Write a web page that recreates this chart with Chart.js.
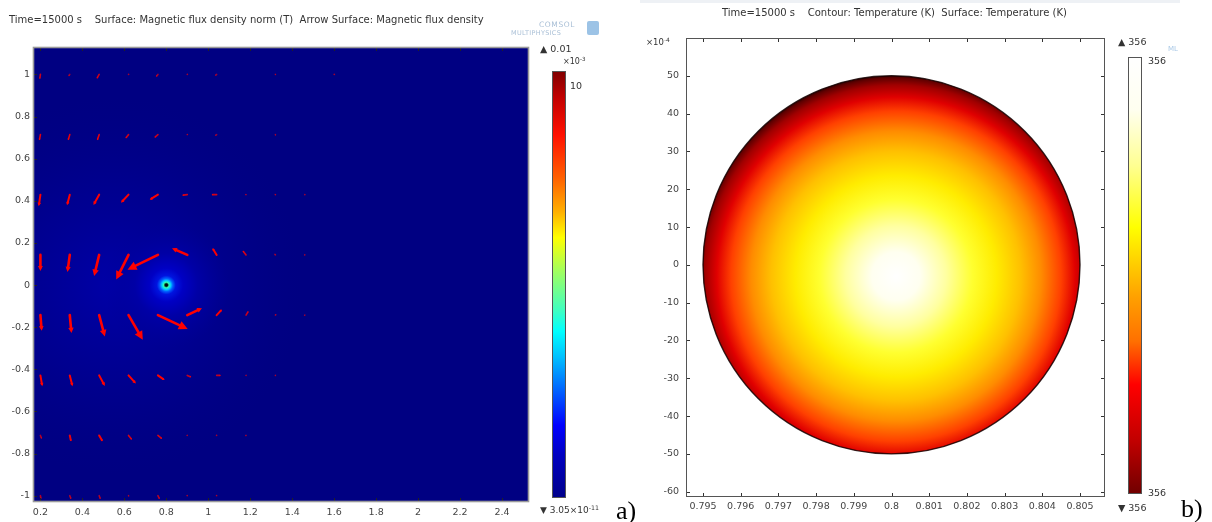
<!DOCTYPE html>
<html><head><meta charset="utf-8">
<script src="https://cdn.jsdelivr.net/npm/chart.js@4.4.0/dist/chart.umd.min.js"></script>
<style>
html,body{margin:0;padding:0;background:#fff;width:1212px;height:522px;overflow:hidden;font-family:'DejaVu Sans',sans-serif;}
canvas{position:absolute;top:0;}
#c1{left:0;}
#c2{left:612px;}
.t{position:absolute;white-space:nowrap;font-size:9.5px;color:#333;line-height:1;}
.h{position:absolute;white-space:nowrap;font-size:10px;color:#333;line-height:1;}
.s{position:absolute;white-space:nowrap;font-family:'Liberation Serif','Times New Roman',serif;font-size:26px;color:#000;line-height:1;}
sup{font-size:70%;vertical-align:0;position:relative;top:-0.45em;}
#topbar{position:absolute;left:640px;top:0;width:540px;height:3px;background:#eef1f5;}
</style></head><body>
<div id="topbar"></div>
<canvas id="c1" width="612" height="522"></canvas>
<canvas id="c2" width="600" height="522"></canvas>

<div class="h" style="left:9px;top:15px;">Time=15000 s&nbsp;&nbsp;&nbsp;&nbsp;Surface: Magnetic flux density norm (T)&nbsp;&nbsp;Arrow Surface: Magnetic flux density</div>
<div class="t" style="left:539px;top:21px;font-size:7.5px;color:#a9bfd6;letter-spacing:0.6px;">COMSOL</div>
<div class="t" style="left:511px;top:30px;font-size:6.5px;color:#a9bfd6;letter-spacing:0.3px;">MULTIPHYSICS</div>
<div style="position:absolute;left:587px;top:21px;width:12px;height:14px;background:#9cc3e6;border-radius:2px;"></div>
<div class="t" style="left:540px;top:44px;">▲ 0.01</div>
<div class="t" style="left:563px;top:58px;font-size:8px;">×10<sup>-3</sup></div>
<div class="t" style="left:570px;top:81px;">10</div>
<div class="t" style="left:540px;top:506px;font-size:9px;">▼ 3.05×10<sup>-11</sup></div>
<div class="s" style="left:616px;top:498px;">a)</div>

<div class="h" style="left:722px;top:8px;">Time=15000 s&nbsp;&nbsp;&nbsp;&nbsp;Contour: Temperature (K)&nbsp;&nbsp;Surface: Temperature (K)</div>
<div class="t" style="left:1168px;top:46px;font-size:7px;color:#a9c8e6;">ML</div>
<div class="t" style="left:646px;top:38px;font-size:8.5px;">×10<sup>-4</sup></div>
<div class="t" style="left:1118px;top:37px;">▲ 356</div>
<div class="t" style="left:1148px;top:56px;">356</div>
<div class="t" style="left:1148px;top:488px;">356</div>
<div class="t" style="left:1118px;top:503px;">▼ 356</div>
<div class="s" style="left:1181px;top:496px;">b)</div>

<script>
// ================= Panel a) data =================
const aXTicks = [0.2,0.4,0.6,0.8,1,1.2,1.4,1.6,1.8,2,2.2,2.4];
const aXLabels = ['0.2','0.4','0.6','0.8','1','1.2','1.4','1.6','1.8','2','2.2','2.4'];
const aYTicks = [-1,-0.8,-0.6,-0.4,-0.2,0,0.2,0.4,0.6,0.8,1];
const aYLabels = ['-1','-0.8','-0.6','-0.4','-0.2','0','0.2','0.4','0.6','0.8','1'];
const aXRange = [0.1647, 2.5285];
const aYRange = [-1.03, 1.13];

// arrow grid (tail positions) and field components (data units)
const arrowCols = [0.2,0.34,0.48,0.62,0.76,0.9,1.04,1.18,1.32,1.46,1.6];
const arrowRows = [1.0,0.714,0.429,0.143,-0.143,-0.429,-0.714,-1.0];
const arrowU = [
  [-0.003,-0.006,-0.011,-0.003,-0.009,-0.003,-0.008,0,0,-0.003,-0.004],
  [-0.005,-0.008,-0.009,-0.014,-0.016,-0.004,-0.008,-0.003,0,0,0],
  [-0.008,-0.013,-0.027,-0.036,-0.039,-0.024,-0.024,-0.005,-0.004,-0.003,-0.003],
  [0,-0.011,-0.024,-0.059,-0.145,-0.073,-0.020,-0.016,-0.005,-0.003,0],
  [0.006,0.008,0.027,0.068,0.142,0.070,0.025,0.011,0.004,0.003,0],
  [0.009,0.013,0.027,0.035,0.032,0.019,0.020,0.004,0.004,0.003,0],
  [0.006,0.006,0.016,0.016,0.020,0.004,0.003,0.004,0.003,0,0],
  [0.003,0.006,0.006,0.003,0.008,0.003,0.003,0,0,0.002,0.002]
];
const arrowV = [
  [-0.022,-0.009,-0.020,-0.003,-0.011,-0.003,-0.006,0,-0.005,0,0],
  [-0.027,-0.027,-0.027,-0.017,-0.014,-0.002,-0.005,0.001,-0.006,0,0],
  [-0.055,-0.050,-0.049,-0.038,-0.024,-0.003,0,0.003,0.004,0.003,0.002],
  [-0.076,-0.081,-0.100,-0.117,-0.070,0.032,0.032,0.020,0.006,0.004,0],
  [-0.074,-0.085,-0.101,-0.117,-0.066,0.033,0.027,0.019,0.006,0.003,0],
  [-0.052,-0.052,-0.050,-0.039,-0.022,-0.008,0,0.003,0.003,0.002,0],
  [-0.016,-0.028,-0.028,-0.020,-0.016,-0.002,-0.003,0.001,0.002,0,0],
  [-0.016,-0.016,-0.016,-0.005,-0.016,-0.003,-0.003,0,0,-0.001,-0.001]
];
// conductor position and surface glow (radius in data units -> colour)
const sourcePoint = [0.8, 0];
const glowRadius = [0, 0.006, 0.013, 0.021, 0.031, 0.045, 0.08, 0.15, 0.3];
const glowColor = ['#000000','#001010','#30ffb0','#00d0ff','#0060ff','#0014e0','#0000c4','#0000a6','rgba(0,0,150,0)'];
const haloCenter = [0.55, 0];
const haloRadius = 0.9;
// jet colour legend (0 = top, 1 = bottom)
const jetPos = [0,0.06,0.15,0.25,0.33,0.39,0.47,0.56,0.61,0.67,0.75,0.83,0.9,1];
const jetCol = ['#800000','#c00000','#ff1000','#ff6000','#ffb000','#ffff00','#a0ff60','#40ffc0','#00ffff','#00c0ff','#0060ff','#0000ff','#0000c0','#00008a'];

// ================= Panel b) data =================
const bXTicks = [0.795,0.796,0.797,0.798,0.799,0.8,0.801,0.802,0.803,0.804,0.805];
const bXLabels = ['0.795','0.796','0.797','0.798','0.799','0.8','0.801','0.802','0.803','0.804','0.805'];
const bYTicks = [-60,-50,-40,-30,-20,-10,0,10,20,30,40,50,60];
const bYLabels = ['-60','-50','-40','-30','-20','-10','0','10','20','30','40','50',''];
const bXRange = [0.794549, 0.805663];
const bYRange = [-61.4, 60];
const diskCenter = [0.8, 0];          // x (m), y (×10^-4 m)
const diskRadius = [0.005, 50];
const heatCenter = [0.80012, -3];
const heatPos = [0,0.12,0.25,0.38,0.5,0.62,0.72,0.82,0.89,0.95,0.985,1];
const heatCol = ['#ffffff','#fffff0','#ffffa0','#ffff30','#ffec00','#ffc000','#ff8c00','#ff4000','#e00000','#a00000','#600000','#300000'];
const heatBarPos = [0,0.12,0.25,0.39,0.55,0.65,0.75,0.88,1];
const heatBarCol = ['#ffffff','#fffff0','#ffff90','#ffff00','#ffa000','#ff7000','#ff0000','#c00000','#700000'];

// ================= helpers =================
const FONT = {family:"'DejaVu Sans', sans-serif", size:9.5};
function fixedTicks(values){ return s => { s.ticks = values.map(v => ({value:v})); }; }

const frameTicks = {
  id:'frameTicks',
  afterDraw(chart, args, o){
    const {ctx, chartArea:a, scales:{x,y}} = chart;
    ctx.save();
    ctx.strokeStyle = o.tick; ctx.lineWidth = 1;
    ctx.beginPath();
    x.ticks.forEach(t=>{ const p=Math.round(x.getPixelForValue(t.value))+0.5;
      ctx.moveTo(p,a.bottom); ctx.lineTo(p,a.bottom-o.len);
      ctx.moveTo(p,a.top); ctx.lineTo(p,a.top+o.len); });
    y.ticks.forEach(t=>{ const p=Math.round(y.getPixelForValue(t.value))+0.5;
      ctx.moveTo(a.left,p); ctx.lineTo(a.left+o.len,p);
      if(o.right){ ctx.moveTo(a.right,p); ctx.lineTo(a.right-o.len,p); } });
    ctx.stroke();
    ctx.strokeStyle = o.frame; ctx.lineWidth = o.fw;
    ctx.strokeRect(a.left+0.5, a.top+0.5, a.width-1, a.height-1);
    ctx.restore();
  }
};

function colorBar(ctx, x, y, w, h, pos, col){
  const g = ctx.createLinearGradient(0,y,0,y+h);
  pos.forEach((p,i)=>g.addColorStop(p,col[i]));
  ctx.fillStyle = g; ctx.fillRect(x,y,w,h);
  ctx.strokeStyle = '#555'; ctx.lineWidth = 1; ctx.strokeRect(x+0.5,y+0.5,w-1,h-1);
}

function drawArrow(ctx,x0,y0,x1,y1){
  const dx=x1-x0, dy=y1-y0, L=Math.hypot(dx,dy);
  if(L<0.8) return;
  const ux=dx/L, uy=dy/L;
  const hl=Math.min(Math.max(L*0.3,1.5),9), hw=hl*0.5;
  ctx.globalAlpha = Math.min(1, 0.4 + L/12);
  ctx.lineWidth = L>14 ? 2.6 : (L>6 ? 2 : 1.6);
  ctx.beginPath(); ctx.moveTo(x0,y0); ctx.lineTo(x1-ux*hl*0.7,y1-uy*hl*0.7); ctx.stroke();
  ctx.beginPath(); ctx.moveTo(x1,y1);
  ctx.lineTo(x1-ux*hl-uy*hw, y1-uy*hl+ux*hw);
  ctx.lineTo(x1-ux*hl+uy*hw, y1-uy*hl-ux*hw);
  ctx.closePath(); ctx.fill();
}

// ================= Chart a) =================
const surfaceA = {
  id:'surfaceA',
  beforeDatasetsDraw(chart){
    const {ctx, chartArea:a, scales:{x,y}} = chart;
    ctx.save();
    ctx.beginPath(); ctx.rect(a.left,a.top,a.width,a.height); ctx.clip();
    ctx.fillStyle = '#000082'; ctx.fillRect(a.left,a.top,a.width,a.height);
    const hx=x.getPixelForValue(haloCenter[0]), hy=y.getPixelForValue(haloCenter[1]);
    const hr=Math.abs(x.getPixelForValue(haloCenter[0]+haloRadius)-hx);
    let g=ctx.createRadialGradient(hx,hy,0,hx,hy,hr);
    g.addColorStop(0,'rgba(0,0,175,0.85)'); g.addColorStop(0.5,'rgba(0,0,160,0.45)'); g.addColorStop(1,'rgba(0,0,140,0)');
    ctx.fillStyle=g; ctx.fillRect(a.left,a.top,a.width,a.height);
    const cx=x.getPixelForValue(sourcePoint[0]), cy=y.getPixelForValue(sourcePoint[1]);
    const rmax=glowRadius[glowRadius.length-1];
    const R=Math.abs(x.getPixelForValue(sourcePoint[0]+rmax)-cx);
    g=ctx.createRadialGradient(cx,cy,0,cx,cy,R);
    glowRadius.forEach((r,i)=>g.addColorStop(r/rmax, glowColor[i]));
    ctx.fillStyle=g; ctx.beginPath(); ctx.arc(cx,cy,R,0,Math.PI*2); ctx.fill();
    ctx.restore();
    ctx.save(); colorBar(ctx, 552, 71, 14, 427, jetPos, jetCol); ctx.restore();
  },
  afterDatasetsDraw(chart){
    const {ctx, chartArea:a, scales:{x,y}} = chart;
    ctx.save();
    ctx.beginPath(); ctx.rect(a.left,a.top,a.width,a.height); ctx.clip();
    ctx.strokeStyle='#ff0000'; ctx.fillStyle='#ff0000'; ctx.lineCap='round';
    arrowRows.forEach((ry,i)=>arrowCols.forEach((rx,j)=>{
      const u=arrowU[i][j], v=arrowV[i][j];
      drawArrow(ctx, x.getPixelForValue(rx), y.getPixelForValue(ry), x.getPixelForValue(rx+u), y.getPixelForValue(ry+v));
    }));
    ctx.restore();
  }
};

const tailPoints = [];
arrowRows.forEach(ry=>arrowCols.forEach(rx=>tailPoints.push({x:rx,y:ry})));

new Chart(document.getElementById('c1'), {
  type:'scatter',
  data:{datasets:[{label:'arrows', data:tailPoints, pointRadius:0, pointHoverRadius:0}]},
  options:{
    responsive:false, animation:false, events:[],
    layout:{padding:{left:0, top:47, right:83, bottom:0}},
    plugins:{legend:{display:false}, tooltip:{enabled:false},
      frameTicks:{tick:'#222', len:4, frame:'#9a9a9a', fw:1.6, right:false}},
    scales:{
      x:{type:'linear', min:aXRange[0], max:aXRange[1], afterBuildTicks:fixedTicks(aXTicks),
         afterFit:s=>{s.height=20;},
         grid:{display:false, drawTicks:false}, border:{display:false},
         ticks:{autoSkip:false, maxRotation:0, padding:5, color:'#444', font:FONT, callback:(v,i)=>aXLabels[i]}},
      y:{type:'linear', min:aYRange[0], max:aYRange[1], afterBuildTicks:fixedTicks(aYTicks),
         afterFit:s=>{s.width=33;},
         grid:{display:false, drawTicks:false}, border:{display:false},
         ticks:{autoSkip:false, padding:3, color:'#444', font:FONT, callback:(v,i)=>aYLabels[i]}}
    }
  },
  plugins:[surfaceA, frameTicks]
});

// ================= Chart b) =================
const surfaceB = {
  id:'surfaceB',
  beforeDatasetsDraw(chart){
    const {ctx, scales:{x,y}} = chart;
    const cx=x.getPixelForValue(diskCenter[0]), cy=y.getPixelForValue(diskCenter[1]);
    const rx=Math.abs(x.getPixelForValue(diskCenter[0]+diskRadius[0])-cx);
    const ry=Math.abs(y.getPixelForValue(diskCenter[1]+diskRadius[1])-cy);
    const hx=x.getPixelForValue(heatCenter[0]), hy=y.getPixelForValue(heatCenter[1]);
    ctx.save();
    const g=ctx.createRadialGradient(hx,hy,0,hx,hy,Math.max(rx,ry)+Math.hypot(hx-cx,hy-cy));
    heatPos.forEach((p,i)=>g.addColorStop(p,heatCol[i]));
    ctx.fillStyle=g;
    ctx.beginPath(); ctx.ellipse(cx,cy,rx,ry,0,0,Math.PI*2); ctx.fill();
    ctx.strokeStyle='rgba(20,0,0,0.85)'; ctx.lineWidth=1.4; ctx.stroke();
    ctx.restore();
    ctx.save(); colorBar(ctx, 1128-612, 57, 14, 437, heatBarPos, heatBarCol); ctx.restore();
  }
};

new Chart(document.getElementById('c2'), {
  type:'scatter',
  data:{datasets:[{label:'domain', data:[{x:diskCenter[0], y:diskCenter[1]}], pointRadius:0, pointHoverRadius:0}]},
  options:{
    responsive:false, animation:false, events:[],
    layout:{padding:{left:0, top:38, right:107, bottom:0}},
    plugins:{legend:{display:false}, tooltip:{enabled:false},
      frameTicks:{tick:'#333', len:4, frame:'#555', fw:1, right:true}},
    scales:{
      x:{type:'linear', min:bXRange[0], max:bXRange[1], afterBuildTicks:fixedTicks(bXTicks),
         afterFit:s=>{s.height=25;},
         grid:{display:false, drawTicks:false}, border:{display:false},
         ticks:{autoSkip:false, maxRotation:0, padding:4, color:'#444', font:FONT, callback:(v,i)=>bXLabels[i]}},
      y:{type:'linear', min:bYRange[0], max:bYRange[1], afterBuildTicks:fixedTicks(bYTicks),
         afterFit:s=>{s.width=74;},
         grid:{display:false, drawTicks:false}, border:{display:false},
         ticks:{autoSkip:false, padding:7, color:'#444', font:FONT, callback:(v,i)=>bYLabels[i]}}
    }
  },
  plugins:[surfaceB, frameTicks]
});
</script>
</body></html>
